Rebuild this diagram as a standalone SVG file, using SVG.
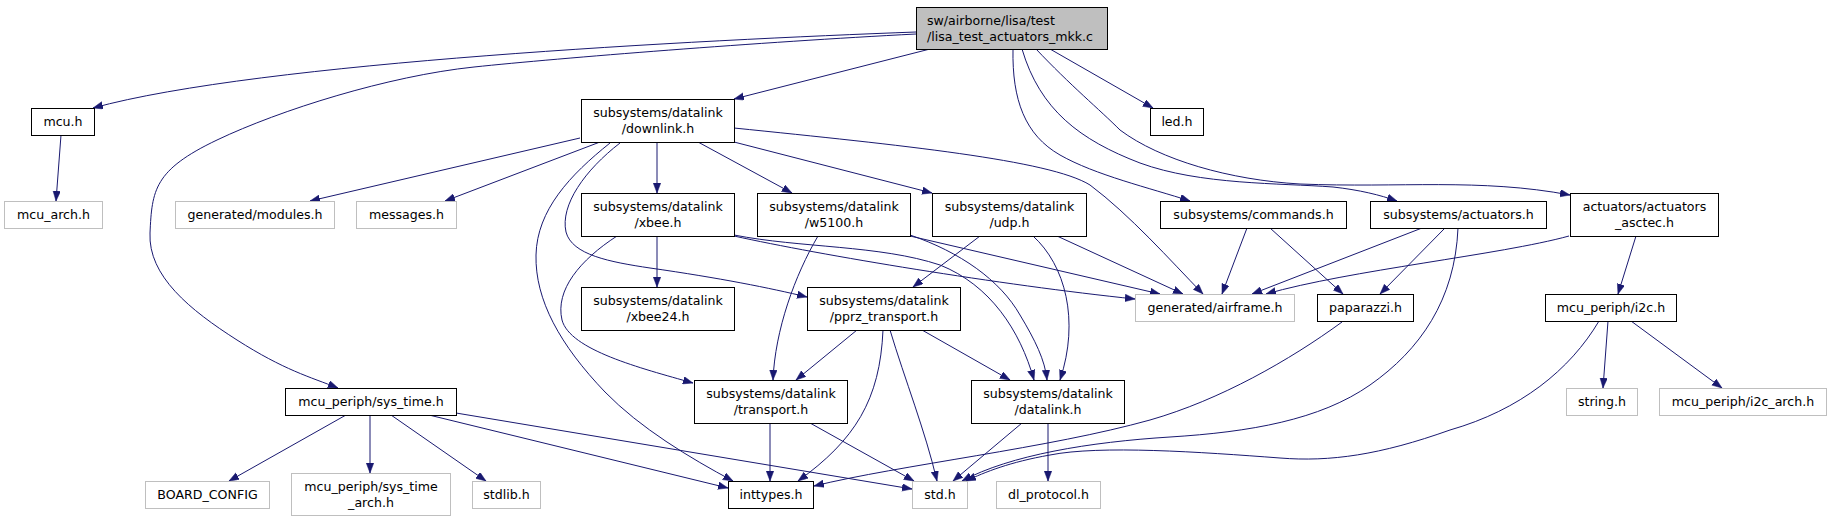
<svg xmlns="http://www.w3.org/2000/svg" width="1831" height="523" viewBox="0 0 1831 523">
<style>
.n{fill:#fff;stroke:#000;stroke-width:1}
.g{fill:#fff;stroke:#bfbfbf;stroke-width:1}
.r{fill:#bfbfbf;stroke:#000;stroke-width:1}
text{font-family:"DejaVu Sans",sans-serif;font-size:12.6px;fill:#000;text-anchor:middle}
.l{text-anchor:start}
#edges path{fill:none;stroke:#191970;stroke-width:1;marker-end:url(#a)}
</style>
<defs>
<marker id="a" markerUnits="userSpaceOnUse" markerWidth="11" markerHeight="8" refX="10" refY="3.75" orient="auto">
<path d="M0,0 L10,3.75 L0,7.5 z" fill="#191970" stroke="#191970" stroke-width="0.5"/>
</marker>
</defs>
<rect width="1831" height="523" fill="#fff"/>
<g id="edges">
<path d="M916,32 C700,40 260,62 93,108"/>
<path d="M916,34 C760,42 560,58 474,67 S280,110 217,140 S152,190 150,233 S190,310 237,340 S310,377 338,388"/>
<path d="M930,49 L734,99"/>
<path d="M1050,49 L1153,108"/>
<path d="M1013,49 C1012,100 1025,135 1060,155 C1095,175 1150,188 1190,201"/>
<path d="M1022,49 C1040,110 1080,140 1140,163 C1200,185 1280,183 1333,187 C1360,190 1380,195 1397,201"/>
<path d="M1036,49 C1070,85 1100,110 1120,130 C1160,160 1230,180 1300,184 C1400,188 1480,178 1570,195"/>
<path d="M61,135 L56,201"/>
<path d="M580,138 L310,201"/>
<path d="M600,142 L445,201"/>
<path d="M610,143 C570,175 537,210 536,255 C535,300 560,345 605,392 C640,428 690,458 733,481"/>
<path d="M620,143 C585,170 560,205 566,232 C572,255 610,262 650,268 C720,278 770,288 807,297"/>
<path d="M657,143 L657,193"/>
<path d="M698,142 L792,193"/>
<path d="M734,142 L932,193"/>
<path d="M734,128 C900,145 1050,160 1090,185 C1130,215 1170,260 1203,294"/>
<path d="M657,236 L657,287"/>
<path d="M617,236 C580,260 555,290 562,320 C570,350 640,368 693,383"/>
<path d="M734,235 C800,248 880,245 940,265 C990,285 1020,330 1034,380"/>
<path d="M734,236 C820,255 1000,285 1135,299"/>
<path d="M818,236 C795,275 775,330 773,380"/>
<path d="M910,235 C960,252 1000,280 1020,315 C1035,340 1045,360 1047,380"/>
<path d="M910,236 L1160,294"/>
<path d="M980,236 L913,287"/>
<path d="M1033,236 C1065,265 1080,320 1060,380"/>
<path d="M1057,236 L1183,294"/>
<path d="M1247,228 L1222,294"/>
<path d="M1270,228 L1343,294"/>
<path d="M1422,228 L1252,294"/>
<path d="M1445,228 L1380,294"/>
<path d="M1458,228 C1455,300 1420,350 1370,385 C1320,420 1250,432 1170,437 C1090,442 1010,455 962,481"/>
<path d="M1599,321 C1570,370 1520,410 1450,430 C1380,455 1330,462 1280,458 C1200,452 1100,445 1050,455 C1010,462 985,472 966,481"/>
<path d="M1342,322 C1290,360 1220,400 1150,420 C1050,448 900,465 814,486"/>
<path d="M1569,236 C1500,255 1350,270 1266,294"/>
<path d="M1636,236 L1618,294"/>
<path d="M1608,321 L1603,388"/>
<path d="M1631,321 L1722,388"/>
<path d="M857,330 L796,380"/>
<path d="M883,330 C880,400 855,440 798,481"/>
<path d="M890,330 C905,380 925,430 937,481"/>
<path d="M922,330 L1010,380"/>
<path d="M770,423 L770,481"/>
<path d="M810,423 L914,481"/>
<path d="M1022,423 L953,481"/>
<path d="M1048,423 L1048,481"/>
<path d="M346,415 L229,481"/>
<path d="M370,415 L370,473"/>
<path d="M391,415 L486,481"/>
<path d="M429,415 L728,488"/>
<path d="M456,413 L912,489"/>
</g>
<g id="n0"><rect class="r" x="916.5" y="7.5" width="191" height="42"/><text class="l" x="927" y="25">sw/airborne/lisa/test</text><text class="l" x="927" y="41">/lisa_test_actuators_mkk.c</text></g>
<g id="n1"><rect class="n" x="31.5" y="108.5" width="63" height="27"/><text x="63" y="126">mcu.h</text></g>
<g id="n2"><rect class="g" x="4.5" y="201.5" width="98" height="27"/><text x="53.5" y="219">mcu_arch.h</text></g>
<g id="n3"><rect class="n" x="285.5" y="388.5" width="171" height="27"/><text x="371" y="406">mcu_periph/sys_time.h</text></g>
<g id="n4"><rect class="g" x="145.5" y="481.5" width="124" height="27"/><text x="207.5" y="499">BOARD_CONFIG</text></g>
<g id="n5"><rect class="g" x="291.5" y="473.5" width="159" height="42"/><text x="371" y="491">mcu_periph/sys_time</text><text x="371" y="507">_arch.h</text></g>
<g id="n6"><rect class="g" x="472.5" y="481.5" width="68" height="27"/><text x="506.5" y="499">stdlib.h</text></g>
<g id="n7"><rect class="n" x="728.5" y="481.5" width="85" height="27"/><text x="771" y="499">inttypes.h</text></g>
<g id="n8"><rect class="g" x="912.5" y="481.5" width="55" height="27"/><text x="940" y="499">std.h</text></g>
<g id="n9"><rect class="n" x="581.5" y="99.5" width="153" height="43"/><text x="658" y="117">subsystems/datalink</text><text x="658" y="133">/downlink.h</text></g>
<g id="n10"><rect class="g" x="175.5" y="201.5" width="159" height="27"/><text x="255" y="219">generated/modules.h</text></g>
<g id="n11"><rect class="g" x="356.5" y="201.5" width="100" height="27"/><text x="406.5" y="219">messages.h</text></g>
<g id="n12"><rect class="g" x="1135.5" y="294.5" width="159" height="27"/><text x="1215" y="312">generated/airframe.h</text></g>
<g id="n13"><rect class="n" x="807.5" y="287.5" width="153" height="43"/><text x="884" y="305">subsystems/datalink</text><text x="884" y="321">/pprz_transport.h</text></g>
<g id="n14"><rect class="n" x="694.5" y="380.5" width="153" height="43"/><text x="771" y="398">subsystems/datalink</text><text x="771" y="414">/transport.h</text></g>
<g id="n15"><rect class="n" x="971.5" y="380.5" width="153" height="43"/><text x="1048" y="398">subsystems/datalink</text><text x="1048" y="414">/datalink.h</text></g>
<g id="n16"><rect class="g" x="996.5" y="481.5" width="104" height="27"/><text x="1048.5" y="499">dl_protocol.h</text></g>
<g id="n17"><rect class="n" x="581.5" y="193.5" width="153" height="43"/><text x="658" y="211">subsystems/datalink</text><text x="658" y="227">/xbee.h</text></g>
<g id="n18"><rect class="n" x="581.5" y="287.5" width="153" height="43"/><text x="658" y="305">subsystems/datalink</text><text x="658" y="321">/xbee24.h</text></g>
<g id="n19"><rect class="n" x="757.5" y="193.5" width="153" height="43"/><text x="834" y="211">subsystems/datalink</text><text x="834" y="227">/w5100.h</text></g>
<g id="n20"><rect class="n" x="932.5" y="193.5" width="154" height="43"/><text x="1009.5" y="211">subsystems/datalink</text><text x="1009.5" y="227">/udp.h</text></g>
<g id="n21"><rect class="n" x="1150.5" y="108.5" width="53" height="27"/><text x="1177" y="126">led.h</text></g>
<g id="n22"><rect class="n" x="1160.5" y="201.5" width="186" height="27"/><text x="1253.5" y="219">subsystems/commands.h</text></g>
<g id="n23"><rect class="n" x="1317.5" y="294.5" width="96" height="27"/><text x="1365.5" y="312">paparazzi.h</text></g>
<g id="n24"><rect class="n" x="1370.5" y="201.5" width="176" height="27"/><text x="1458.5" y="219">subsystems/actuators.h</text></g>
<g id="n25"><rect class="n" x="1570.5" y="193.5" width="148" height="43"/><text x="1644.5" y="211">actuators/actuators</text><text x="1644.5" y="227">_asctec.h</text></g>
<g id="n26"><rect class="n" x="1545.5" y="294.5" width="131" height="27"/><text x="1611" y="312">mcu_periph/i2c.h</text></g>
<g id="n27"><rect class="g" x="1566.5" y="388.5" width="71" height="27"/><text x="1602" y="406">string.h</text></g>
<g id="n28"><rect class="g" x="1659.5" y="388.5" width="167" height="27"/><text x="1743" y="406">mcu_periph/i2c_arch.h</text></g>
</svg>
